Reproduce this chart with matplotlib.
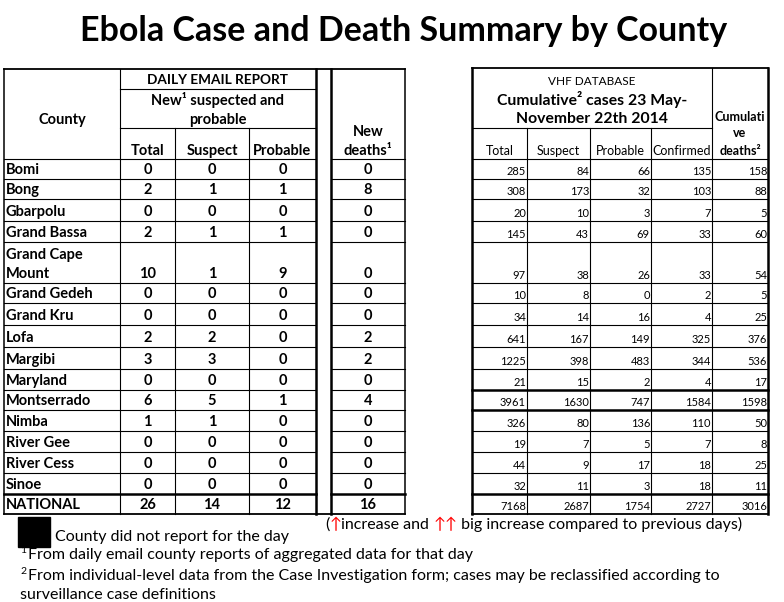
import matplotlib
matplotlib.use("Agg")
import matplotlib.pyplot as plt

plt.rcParams['font.family'] = ['Lato', 'DejaVu Sans']

# table data
counties = ['Bomi', 'Bong', 'Gbarpolu', 'Grand Bassa', 'Grand Cape\nMount', 'Grand Gedeh',
            'Grand Kru', 'Lofa', 'Margibi', 'Maryland', 'Montserrado', 'Nimba',
            'River Gee', 'River Cess', 'Sinoe', 'NATIONAL']
new_total = [0, 2, 0, 2, 10, 0, 0, 2, 3, 0, 6, 1, 0, 0, 0, 26]
new_suspect = [0, 1, 0, 1, 1, 0, 0, 2, 3, 0, 5, 1, 0, 0, 0, 14]
new_probable = [0, 1, 0, 1, 9, 0, 0, 0, 0, 0, 1, 0, 0, 0, 0, 12]
new_deaths = [0, 8, 0, 0, 0, 0, 0, 2, 2, 0, 4, 0, 0, 0, 0, 16]
cum_total = [285, 308, 20, 145, 97, 10, 34, 641, 1225, 21, 3961, 326, 19, 44, 32, 7168]
cum_suspect = [84, 173, 10, 43, 38, 8, 14, 167, 398, 15, 1630, 80, 7, 9, 11, 2687]
cum_probable = [66, 32, 3, 69, 26, 0, 16, 149, 483, 2, 747, 136, 5, 17, 3, 1754]
cum_confirmed = [135, 103, 7, 33, 33, 2, 4, 325, 344, 4, 1584, 110, 7, 18, 18, 2727]
cum_deaths = [158, 88, 5, 60, 54, 5, 25, 376, 536, 17, 1598, 50, 8, 25, 11, 3016]

# layout (pixels)
row_heights = [20, 20, 22, 21, 41, 20, 22, 22, 22, 21, 20, 21, 21, 21, 21, 20]
top, hdr1, hdr2, hdr_bot = 69, 89, 128, 159
left_cols = [4, 120, 175, 249, 316]
death_cols = [331, 405]
right_cols = [472, 527, 590, 651, 712, 768]

row_edges = [hdr_bot]
for h in row_heights:
    row_edges.append(row_edges[-1] + h)
bottom = row_edges[-1]

fig = plt.figure(figsize=(7.84, 6.02), dpi=100)
ax = fig.add_axes([0, 0, 1, 1])
ax.set_xlim(0, 784)
ax.set_ylim(602, 0)
ax.axis('off')

thin, thick = 0.8, 1.8

def hline(y, x0, x1, lw=thin):
    ax.plot([x0, x1], [y, y], color='black', lw=lw, solid_capstyle='projecting')

def vline(x, y0, y1, lw=thin):
    ax.plot([x, x], [y0, y1], color='black', lw=lw, solid_capstyle='projecting')

ax.text(404, 31, 'Ebola Case and Death Summary by County', ha='center', va='center',
        fontsize=24.5, fontweight='bold')

# ---- left table grid
hline(top, left_cols[0], death_cols[1], 1.3)
hline(bottom, left_cols[0], death_cols[1], 1.3)
hline(hdr1, left_cols[1], left_cols[4])
hline(hdr2, left_cols[1], left_cols[4])
for i, y in enumerate(row_edges[:-1]):
    lw = thick if i == len(row_edges) - 2 else thin
    hline(y, left_cols[0], left_cols[4], lw)
    hline(y, death_cols[0], death_cols[1], lw)
vline(left_cols[0], top, bottom, 1.1)
vline(left_cols[1], top, bottom)
vline(left_cols[2], hdr2, bottom)
vline(left_cols[3], hdr2, bottom)
vline(left_cols[4], top, bottom, thick)
vline(death_cols[0], top, bottom, thick)
vline(death_cols[1], top, bottom, 1.1)

# ---- right table grid
hline(top - 1, right_cols[0], right_cols[5], 1.3)
hline(bottom, right_cols[0], right_cols[5], 1.3)
hline(hdr2, right_cols[0], right_cols[4])
for i, y in enumerate(row_edges[:-1]):
    lw = thick if i in (10, 11, len(row_edges) - 2) else thin
    hline(y, right_cols[0], right_cols[5], lw)
vline(right_cols[0], top - 1, bottom, thick)
vline(right_cols[5], top - 1, bottom, thick)
for x in right_cols[1:4]:
    vline(x, hdr2, bottom)
vline(right_cols[4], top - 1, bottom)

# ---- headers
hb = dict(fontsize=10.5, fontweight='bold', ha='center', va='baseline')
ax.text((left_cols[0] + left_cols[1]) / 2, 124, 'County', **hb)
ax.text((left_cols[1] + left_cols[4]) / 2, 84, 'DAILY EMAIL REPORT', fontsize=9.8,
        fontweight='bold', ha='center', va='baseline')
ax.text((left_cols[1] + left_cols[4]) / 2, 105, 'New¹ suspected and', **hb)
ax.text((left_cols[1] + left_cols[4]) / 2, 124, 'probable', **hb)
for j, lab in enumerate(['Total', 'Suspect', 'Probable']):
    ax.text((left_cols[j + 1] + left_cols[j + 2]) / 2, 155, lab, **hb)
ax.text(sum(death_cols) / 2, 136, 'New', **hb)
ax.text(sum(death_cols) / 2, 155, 'deaths¹', **hb)

rc = (right_cols[0] + right_cols[4]) / 2
ax.text(rc, 85, 'VHF DATABASE', fontsize=8.5, ha='center', va='baseline')
ax.text(rc, 105, 'Cumulative² cases 23 May-', fontsize=11.3, fontweight='bold',
        ha='center', va='baseline')
ax.text(rc, 123, 'November 22th 2014', fontsize=11.3, fontweight='bold',
        ha='center', va='baseline')
hr = dict(fontsize=9, ha='center', va='baseline')
for j, lab in enumerate(['Total', 'Suspect', 'Probable', 'Confirmed']):
    ax.text((right_cols[j] + right_cols[j + 1]) / 2, 155, lab, **hr)
cd = (right_cols[4] + right_cols[5]) / 2
for lab, yy in [('Cumulati', 121), ('ve', 137), ('deaths²', 155)]:
    ax.text(cd, yy, lab, fontsize=9, fontweight='bold', ha='center', va='baseline')

# ---- body
for i, name in enumerate(counties):
    yb = row_edges[i + 1] - 5
    lines = name.split('\n')
    for k, part in enumerate(lines):
        ax.text(left_cols[0] + 2, yb - 19 * (len(lines) - 1 - k), part, fontsize=10.5,
                fontweight='bold', ha='left', va='baseline')
    for j, vals in enumerate([new_total, new_suspect, new_probable]):
        ax.text((left_cols[j + 1] + left_cols[j + 2]) / 2, yb, str(vals[i]), fontsize=10.5,
                fontweight='bold', ha='center', va='baseline')
    ax.text(sum(death_cols) / 2, yb, str(new_deaths[i]), fontsize=10.5,
            fontweight='bold', ha='center', va='baseline')
    for j, vals in enumerate([cum_total, cum_suspect, cum_probable, cum_confirmed, cum_deaths]):
        ax.text(right_cols[j + 1] - 1, row_edges[i + 1] - 4, str(vals[i]), fontsize=8,
                ha='right', va='baseline')

# ---- legend / footnotes
fn = 11.5
ax.add_patch(plt.Rectangle((18, 517), 32, 30, color='black'))
ax.text(55, 541, 'County did not report for the day', fontsize=fn, va='baseline')

fig.canvas.draw()
renderer = fig.canvas.get_renderer()
x = 325
for piece, col in [('(', 'black'), ('↑', 'red'), ('increase and ', 'black'),
                   ('↑↑', 'red'), (' big increase compared to previous days)', 'black')]:
    t = ax.text(x, 529, piece, fontsize=fn, color=col, va='baseline')
    bb = t.get_window_extent(renderer)
    x += bb.width

# footnote markers drawn a bit larger than Lato's own superscripts
ax.text(20, 553, '1', fontsize=7.5, va='baseline')
ax.text(28, 559, 'From daily email county reports of aggregated data for that day',
        fontsize=fn, va='baseline')
ax.text(20, 574, '2', fontsize=7.5, va='baseline')
ax.text(28, 580, 'From individual-level data from the Case Investigation form; cases may be '
        'reclassified according to', fontsize=fn, va='baseline')
ax.text(20, 599, 'surveillance case definitions', fontsize=fn, va='baseline')

fig.savefig('out.png', dpi=100)
